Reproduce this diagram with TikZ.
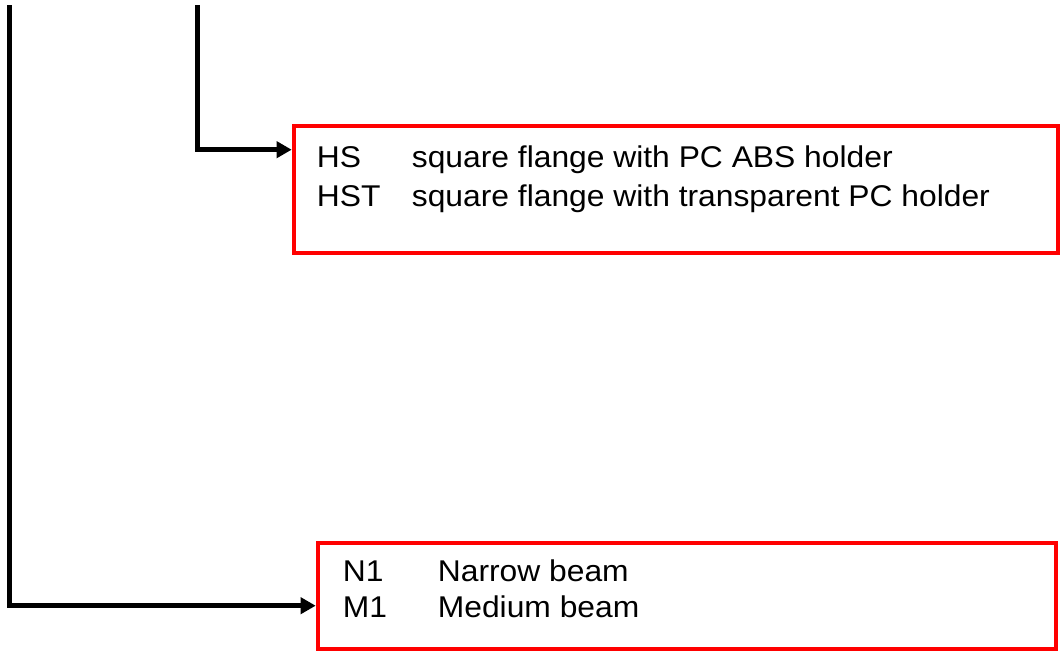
\documentclass[tikz,border=0pt]{standalone}
\usepackage{fontspec}
\setmainfont{Liberation Sans}[FakeStretch=1.06]
\usetikzlibrary{arrows.meta,calc,positioning}
\tikzset{
    redbox/.style={draw=red, rectangle, line width=4.6pt, inner sep=0pt},
    feed/.style={-{Triangle[length=15pt,width=16pt]}, line width=5pt},
    entries/.style={anchor=base west, inner sep=0pt, align=left}
}

\begin{document}
\begin{tikzpicture}[x=1pt,y=-1pt]
\useasboundingbox (0,0) rectangle (1062,653);
% Boxes
\node[redbox, minimum width=764pt, minimum height=127pt] (flange) at (676,189.5) {};
\node[redbox, minimum width=738pt, minimum height=106pt] (beam) at (687,596) {};

% Entries inside the boxes
\node[entries, font=\fontsize{30}{39}\selectfont] (flangetxt) at ($(flange.north west)+(25,44)$)
{\begin{tabular}[t]{@{}p{95pt}@{}l@{}}
HS & square flange with PC ABS holder\\
HST & square flange with transparent PC holder
\end{tabular}};
\node[entries, font=\fontsize{30}{36}\selectfont] (beamtxt) at ($(beam.north west)+(27,41)$)
{\begin{tabular}[t]{@{}p{95pt}@{}l@{}}
N1 & Narrow beam\\
M1 & Medium beam
\end{tabular}};

% Feed lines from above
\coordinate (feedA) at (197,5);
\coordinate (feedB) at (9,5);
\draw[feed] (feedA) |- ([yshift=-26pt]flange.north west);
\draw[feed] (feedB) |- ([yshift=-65pt]beam.north west);
\end{tikzpicture}
\end{document}
